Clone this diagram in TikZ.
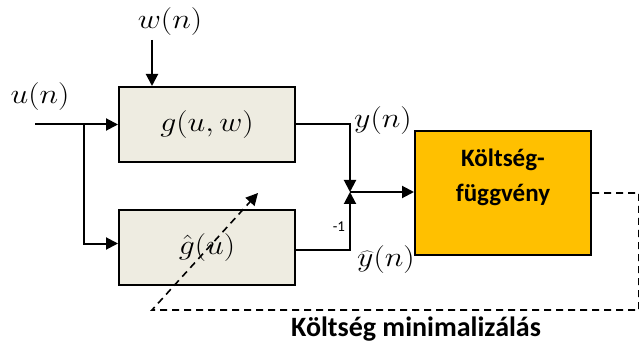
\documentclass[tikz,border=0pt]{standalone}
\usepackage{fontspec}
\usepackage{graphicx}
\setsansfont{Carlito}
\usetikzlibrary{arrows.meta}
\definecolor{boxfill}{HTML}{EEECE1}
\definecolor{costfill}{HTML}{FFC000}
% enlarged math labels (math fonts stop growing at 24.88pt)
\newcommand\bigmath[1]{\scalebox{1.28}[1.12]{$#1$}}
\begin{document}
\begin{tikzpicture}[x=1pt,y=-1pt,
  line width=2pt,
  arr/.style={-{Triangle[length=12pt,width=12pt]}},
  mathfont/.style={font=\fontsize{24}{28}\selectfont},
  block/.style={draw,fill=boxfill,minimum width=176pt,minimum height=75pt,inner sep=0pt,mathfont},
  costbox/.style={draw,fill=costfill,minimum width=176pt,minimum height=124pt,inner sep=0pt},
  mlabel/.style={inner sep=0pt,mathfont},
  dashline/.style={line width=1.6pt,dash pattern=on 7pt off 5pt}]
\useasboundingbox (0,0) rectangle (639,347);

% blocks
\node[block] (g) at (207,124.5) {\bigmath{g(u,w)}};
\node[block] (gh) at (207,247.5) {\bigmath{\hat{g}(u)}};
\node[costbox] (cost) at (503,193) {};
\node[inner sep=0pt,align=center,font=\sffamily\bfseries\fontsize{25}{35}\selectfont] (costtxt) at (503,177) {Költség-\\függvény};

% signal points
\coordinate (uin) at (35,124.5);
\coordinate (br) at (84,124.5);
\coordinate (win) at (152,40);
\coordinate (sum) at (350,192);
\coordinate (dl) at (152,310);
\coordinate (dtip) at (258,193);

% signal labels
\node[mlabel] (ulab) at (40,97) {\bigmath{u(n)}};
\node[mlabel] (wlab) at (170,22) {\bigmath{w(n)}};
\node[mlabel] (ylab) at (383,121) {\bigmath{y(n)}};
\node[mlabel] (yhlab) at (386,260) {\bigmath{\widehat{y}(n)}};
\node[inner sep=0pt,font=\sffamily\fontsize{15}{18}\selectfont] (m1) at (339,227) {-1};
\node[inner sep=0pt,font=\sffamily\bfseries\fontsize{28}{32}\selectfont] (minlab) at (416,329) {Költség minimalizálás};

% connectors
\draw[arr] (uin) -- (g.west);
\draw[arr] (br) |- ([yshift=4pt]gh.west);
\draw[arr] (win) -- (win |- g.north);
\draw[arr] (g.east) -| (sum);
\draw[arr] ([yshift=-2.5pt]gh.east) -| (sum);
\draw[arr] (sum) -- (sum -| cost.west);

% cost minimisation feedback
\draw[dashline,-{Triangle[length=12pt,width=12pt]}] (cost.east) -- ++(47,0) |- (dl) -- (dtip);
\end{tikzpicture}
\end{document}
